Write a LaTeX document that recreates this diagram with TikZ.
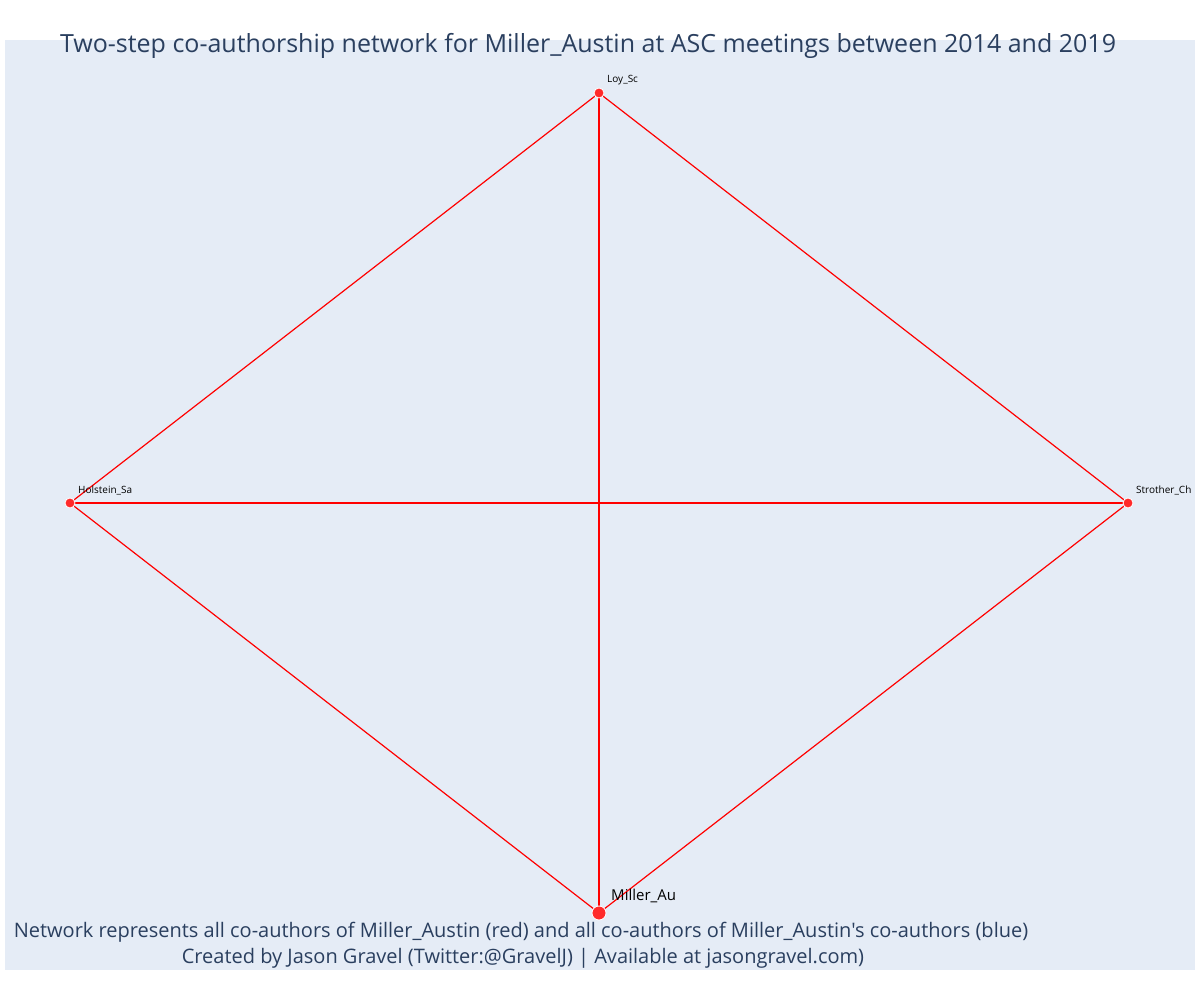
\documentclass[tikz,border=0pt]{standalone}
\usepackage{fontspec}
\setmainfont{Open Sans}[Ligatures=TeXOff]
\definecolor{bgc}{HTML}{E5ECF6}
\definecolor{txt}{HTML}{2A3F5F}
\definecolor{nodec}{HTML}{FF2A2A}
\begin{document}
\begin{tikzpicture}[x=1pt,y=-1pt,
  vert/.style={circle,fill=nodec,draw=white,line width=0.8pt,inner sep=0pt,minimum size=10pt},
  bigvert/.style={vert,minimum size=14pt},
  edge/.style={draw=red,line width=1.2pt},
  small/.style={font=\fontsize{10}{11}\selectfont,text=black,anchor=south west,inner sep=0pt}]
\useasboundingbox (0,0) rectangle (1200,1000);
\fill[white] (0,0) rectangle (1200,1000);
\fill[bgc] (5,40) rectangle (1195,970);
\node[font=\fontsize{25}{28}\selectfont,text=txt] (title) at (588,46) {Two-step co-authorship network for Miller\_Austin at ASC meetings between 2014 and 2019};
\coordinate (pL) at (599,93);
\coordinate (pH) at (70,503);
\coordinate (pS) at (1128,503);
\coordinate (pM) at (599,913);
\draw[edge] (pL) -- (pH);
\draw[edge] (pL) -- (pS);
\draw[edge] (pL) -- (pM);
\draw[edge] (pH) -- (pS);
\draw[edge] (pH) -- (pM);
\draw[edge] (pS) -- (pM);
\node[vert] (loy) at (pL) {};
\node[vert] (hol) at (pH) {};
\node[vert] (str) at (pS) {};
\node[bigvert] (mil) at (pM) {};
\node[small] (loyl) at (607,85) {Loy\_Sc};
\node[small] (holl) at (78,495) {Holstein\_Sa};
\node[small] (strl) at (1136,495) {Strother\_Ch};
\node[font=\fontsize{15}{17}\selectfont,text=black,anchor=south west,inner sep=0pt] (mill) at (611,903) {Miller\_Au};
\node[font=\fontsize{20}{22}\selectfont,text=txt] (foot1) at (521,932) {Network represents all co-authors of Miller\_Austin (red) and all co-authors of Miller\_Austin's co-authors (blue)};
\node[font=\fontsize{20}{22}\selectfont,text=txt] (foot2) at (523,958) {Created by Jason Gravel (Twitter:@GravelJ) | Available at jasongravel.com)};
\end{tikzpicture}
\end{document}
